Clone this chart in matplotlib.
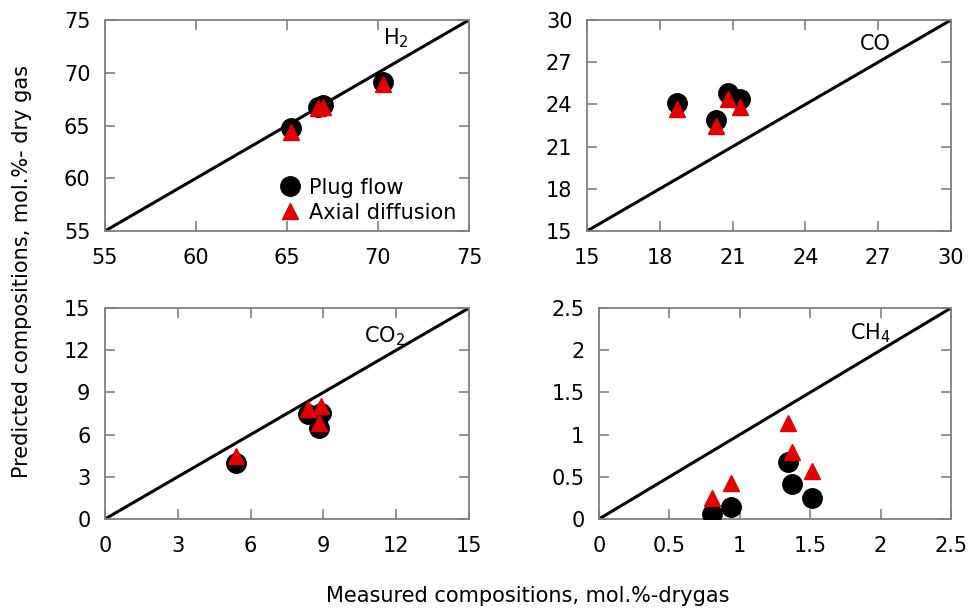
import numpy as np
import matplotlib.pyplot as plt

# measured vs predicted compositions (mol.%, dry gas)
h2_meas = [65.2, 66.7, 67.0, 70.3]
h2_plug = [64.8, 66.8, 66.9, 69.1]
h2_axial = [64.4, 66.7, 66.8, 68.9]

co_meas = [18.7, 20.3, 20.8, 21.3]
co_plug = [24.1, 22.9, 24.8, 24.4]
co_axial = [23.7, 22.5, 24.4, 23.8]

co2_meas = [5.4, 8.35, 8.9, 8.8]
co2_plug = [4.0, 7.5, 7.55, 6.45]
co2_axial = [4.45, 7.85, 8.05, 6.85]

ch4_meas = [0.80, 0.94, 1.34, 1.37, 1.51]
ch4_plug = [0.06, 0.14, 0.67, 0.42, 0.25]
ch4_axial = [0.25, 0.43, 1.14, 0.79, 0.57]

panels = [
    ("H$_2$", h2_meas, h2_plug, h2_axial, (55, 75), [55, 60, 65, 70, 75], (71.0, 73.3)),
    ("CO", co_meas, co_plug, co_axial, (15, 30), [15, 18, 21, 24, 27, 30], (26.9, 28.3)),
    ("CO$_2$", co2_meas, co2_plug, co2_axial, (0, 15), [0, 3, 6, 9, 12, 15], (11.5, 13.0)),
    ("CH$_4$", ch4_meas, ch4_plug, ch4_axial, (0, 2.5), [0, 0.5, 1, 1.5, 2, 2.5], (1.93, 2.2)),
]
ticklabels = [
    ["55", "60", "65", "70", "75"],
    ["15", "18", "21", "24", "27", "30"],
    ["0", "3", "6", "9", "12", "15"],
    ["0", "0.5", "1", "1.5", "2", "2.5"],
]

W, H = 974, 614
FS = 15
fig = plt.figure(figsize=(W / 100, H / 100), dpi=100)
boxes = [(105, 20, 469, 231), (587, 20, 951, 231),
         (105, 308, 469, 519), (599, 308, 951, 519)]

for (name, meas, plug, axial, lim, ticks, lab), tl, (x0, y0, x1, y1) in zip(panels, ticklabels, boxes):
    ax = fig.add_axes([x0 / W, 1 - y1 / H, (x1 - x0) / W, (y1 - y0) / H])
    ax.plot(lim, lim, color='black', linewidth=2.2, zorder=2)
    ax.plot(meas, plug, 'o', color='black', markersize=14, zorder=3,
            label='Plug flow')
    ax.plot(meas, axial, '^', color='#e30000', markersize=11.5, zorder=4,
            label='Axial diffusion')
    ax.set_xlim(lim)
    ax.set_ylim(lim)
    ax.set_xticks(ticks)
    ax.set_yticks(ticks)
    ax.set_xticklabels(tl)
    ax.set_yticklabels(tl)
    ax.tick_params(direction='in', length=7, width=1.2, color='#808080',
                   top=True, right=True, labelsize=FS, pad=10.5)
    ax.tick_params(axis='x', pad=12)
    for s in ax.spines.values():
        s.set_color('#808080')
        s.set_linewidth(1.3)
    ax.text(lab[0], lab[1], name, fontsize=FS, ha='center', va='center')
    if name == "H$_2$":
        ax.legend(loc='lower right', bbox_to_anchor=(1.0, -0.02), frameon=False,
                  fontsize=FS, handletextpad=0.3, borderaxespad=0.2,
                  labelspacing=0.25, handlelength=1.2)

fig.text(22 / W, 1 - 272 / H, 'Predicted compositions, mol.%- dry gas',
         rotation=90, ha='center', va='center', fontsize=FS)
fig.text(528 / W, 1 - 596 / H, 'Measured compositions, mol.%-drygas',
         ha='center', va='center', fontsize=FS)

fig.savefig('out.png', dpi=100)
